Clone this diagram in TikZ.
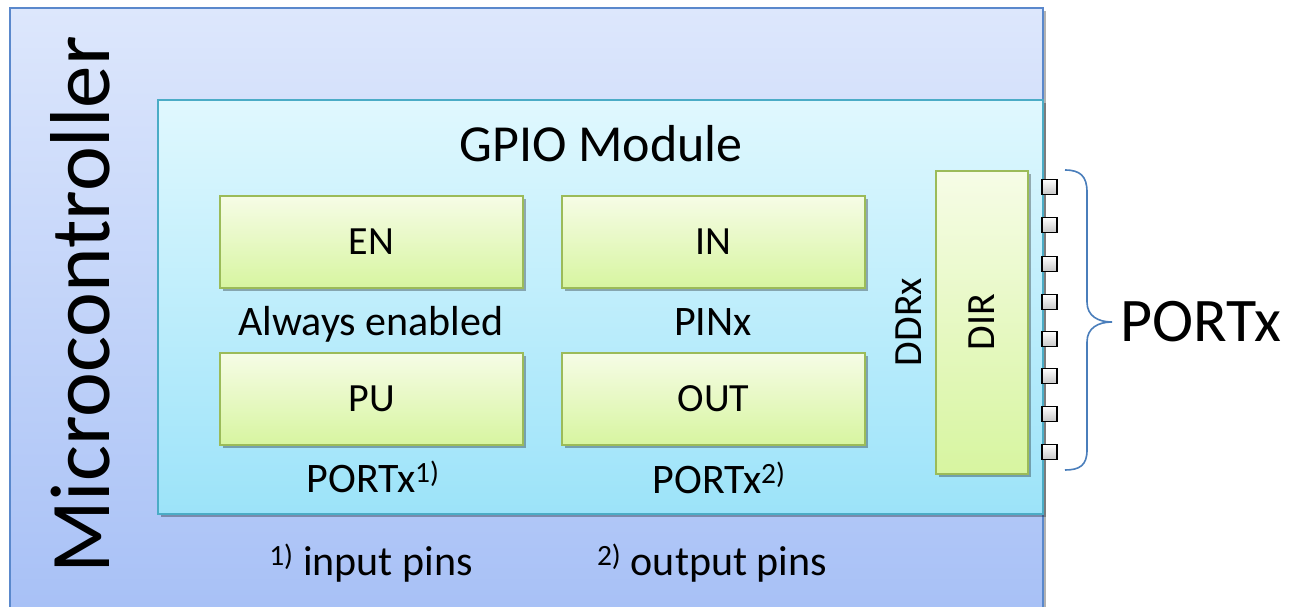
\documentclass[tikz,border=0pt]{standalone}
\usepackage{fontspec}
\setmainfont{Carlito}
\usetikzlibrary{shadows}
\definecolor{mctop}{HTML}{DDE7FC}
\definecolor{mcbot}{HTML}{A7C0F6}
\definecolor{mcborder}{HTML}{5A88CC}
\definecolor{gptop}{HTML}{E0F8FE}
\definecolor{gpbot}{HTML}{9CE3F9}
\definecolor{gpborder}{HTML}{4BACC6}
\definecolor{grtop}{HTML}{F6FCE6}
\definecolor{grbot}{HTML}{D7F5A0}
\definecolor{grborder}{HTML}{9BBB59}
\definecolor{bracecol}{HTML}{4A7EBB}
\newcommand{\fs}[1]{\fontsize{#1}{#1}\selectfont}
\begin{document}
\begin{tikzpicture}[x=1pt,y=-1pt,
  shad/.style={drop shadow={shadow xshift=2.5pt,shadow yshift=-2.5pt,opacity=0.3,fill=black}},
  mcbox/.style={draw=mcborder,line width=1.5pt,top color=mctop,bottom color=mcbot,inner sep=0pt,outer sep=0pt,anchor=north west,shad},
  gpbox/.style={draw=gpborder,line width=1.8pt,top color=gptop,bottom color=gpbot,inner sep=0pt,outer sep=0pt,anchor=north west,shad},
  grbox/.style={draw=grborder,line width=2.2pt,top color=grtop,bottom color=grbot,inner sep=0pt,outer sep=0pt,shad,font=\fs{40}},
  pinbox/.style={draw=black,line width=1.8pt,top color=white,bottom color=black!22,minimum size=15pt,inner sep=0pt},
  lbl/.style={font=\fs{42},inner sep=0pt,anchor=base}]
\useasboundingbox (0,0) rectangle (1291,606);
\fill[white] (0,0) rectangle (1291,606);
% outer microcontroller box
\node[mcbox,minimum width=1033pt,minimum height=610pt] (mc) at (10,8) {};
\node[font=\fs{85},rotate=90,inner sep=0pt] (mctext) at (80,305) {Microcontroller};
% GPIO module
\node[gpbox,minimum width=885pt,minimum height=414pt] (gpio) at (158,100) {};
\node[font=\fs{52},inner sep=0pt,anchor=base] (gptitle) at (601,161) {GPIO Module};
% green boxes
\node[grbox,minimum width=303pt,minimum height=92pt] (en) at (371.5,242) {EN};
\node[grbox,minimum width=303pt,minimum height=92pt] (in) at (713.5,242) {IN};
\node[grbox,minimum width=303pt,minimum height=92pt] (pu) at (371.5,399) {PU};
\node[grbox,minimum width=303pt,minimum height=92pt] (out) at (713.5,399) {OUT};
\node[grbox,minimum width=92pt,minimum height=303pt] (dir) at (982,322.5) {};
\node[font=\fs{40},rotate=90,inner sep=0pt] (dirtext) at (982,322) {DIR};
% labels
\node[lbl] (always) at (371,335) {Always enabled};
\node[lbl] (pinx) at (713,335) {PINx};
\node[lbl] (portpu) at (373,492) {PORTx\textsuperscript{1)}};
\node[lbl] (portout) at (719,493) {PORTx\textsuperscript{2)}};
\node[font=\fs{40},rotate=90,inner sep=0pt] (ddrx) at (909,322) {DDRx};
\node[lbl] (fn1) at (371,575) {\textsuperscript{1)} input pins};
\node[lbl] (fn2) at (712,575) {\textsuperscript{2)} output pins};
% pins
\foreach \y [count=\i] in {187,225,264,302,339,376,414,452}
  \node[pinbox] (p\i) at (1049.5,\y) {};
% brace
\coordinate (bt) at (1065,170);
\coordinate (bb) at (1065,470);
\coordinate (btip) at (1112,322);
\draw[bracecol,line width=1.6pt]
  (bt) .. controls (1080,170) and (1087,176) .. (1087,192) -- (1087,302)
  .. controls (1087,316) and (1098,322) .. (btip)
  .. controls (1098,322) and (1087,328) .. (1087,342) -- (1087,450)
  .. controls (1087,465) and (1080,470) .. (bb);
\node[font=\fs{62},inner sep=0pt] (portx) at (1201,322) {PORTx};
\end{tikzpicture}
\end{document}
